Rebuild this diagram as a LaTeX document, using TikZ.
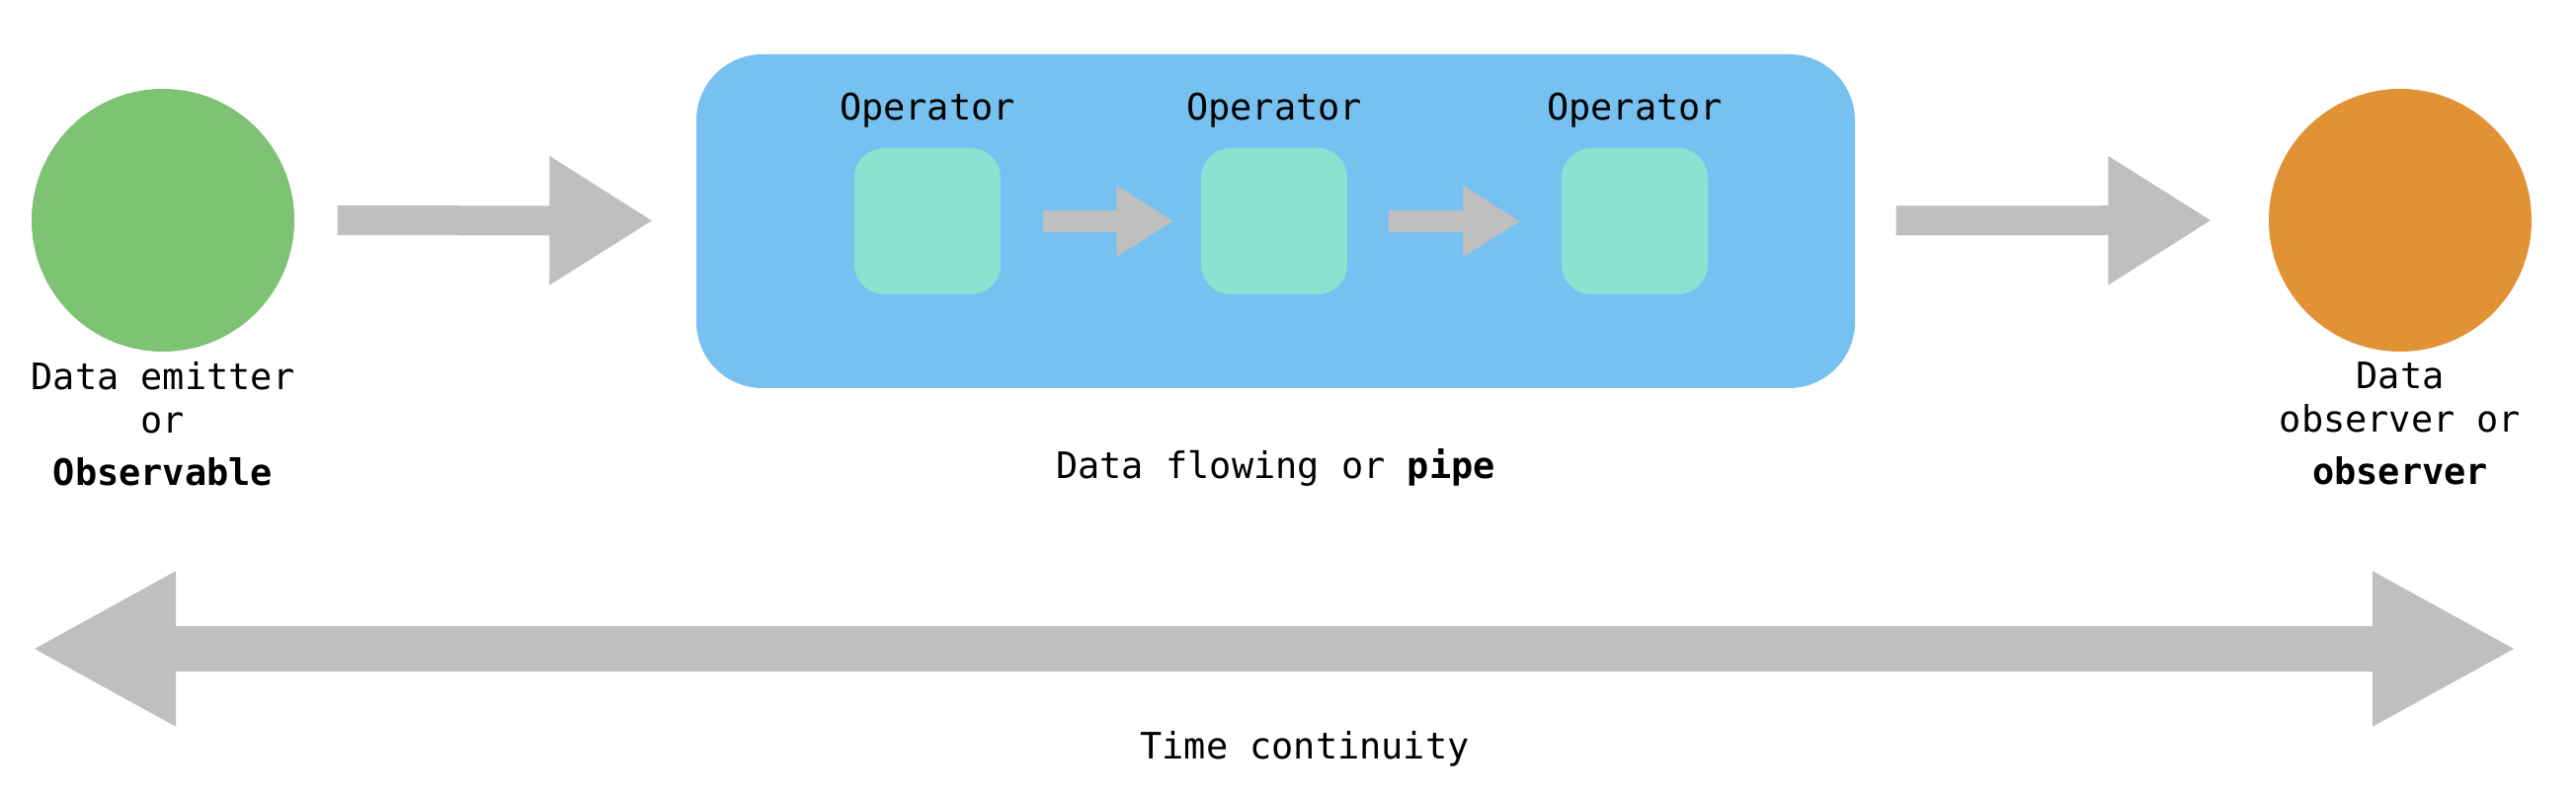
\documentclass[tikz,border=0pt]{standalone}
\usepackage{fontspec}
\setmonofont{DejaVu Sans Mono}
\usepackage{xcolor}
\usetikzlibrary{positioning,arrows.meta}

\definecolor{emittergreen}{RGB}{125,195,115}
\definecolor{observerorange}{RGB}{224,146,53}
\definecolor{pipeblue}{RGB}{118,193,240}
\definecolor{opteal}{RGB}{141,225,209}
\definecolor{flowgray}{RGB}{191,191,191}

\begin{document}
\begin{tikzpicture}[node distance=0.2cm, font=\ttfamily\fontsize{10.5}{12.7}\selectfont,
  actor/.style={circle, minimum size=2.66cm, inner sep=0pt},
  opbox/.style={fill=opteal, rounded corners=0.3cm, minimum size=1.48cm, inner sep=0pt},
  bigflow/.style={draw=flowgray, line width=0.30cm, -{Triangle[length=1.05cm, width=1.23cm]}},
  smallflow/.style={draw=flowgray, line width=0.22cm, -{Triangle[length=0.58cm, width=0.68cm]}},
  timeflow/.style={draw=flowgray, line width=0.46cm,
    {Triangle[length=1.46cm, width=1.46cm]}-{Triangle[length=1.46cm, width=1.46cm]}}]

  \useasboundingbox (0,0) rectangle (26.08,8.06);

  \node[actor, fill=emittergreen] (emitter) at (1.65,5.83) {};
  \node[actor, fill=observerorange] (observer) at (24.30,5.83) {};

  \node[fill=pipeblue, rounded corners=0.67cm, minimum width=11.73cm, minimum height=3.38cm] (pipe) at (12.915,5.82) {};

  \node[opbox] (op1) at (9.39,5.82) {};
  \node[opbox] (op2) at (12.90,5.82) {};
  \node[opbox] (op3) at (16.55,5.82) {};

  \node[above=0.08cm of op1] (lop1) {Operator};
  \node[above=0.08cm of op2] (lop2) {Operator};
  \node[above=0.08cm of op3] (lop3) {Operator};

  \node[below=-0.03cm of emitter, align=center] (lemitter) {Data emitter\\or\\[2.4pt]\textbf{Observable}};
  \node[below=-0.03cm of observer, align=center] (lobserver) {Data\\observer or\\[2.4pt]\textbf{observer}};
  \node[below=0.48cm of pipe] (lpipe) {Data flowing or \textbf{pipe}};

  \path[bigflow, shorten <=0.43cm, shorten >=0.43cm] (emitter) -- (pipe);
  \path[bigflow, shorten <=0.41cm, shorten >=0.57cm] (pipe) -- (observer);

  \path[smallflow, shorten <=0.42cm, shorten >=0.27cm] (op1) -- (op2);
  \path[smallflow, shorten <=0.41cm, shorten >=0.41cm] (op2) -- (op3);

  \coordinate (tstart) at (0.32,1.49);
  \coordinate (tend) at (25.48,1.49);
  \path[timeflow] (tstart) -- (tend);
  \node (ltime) at (13.21,0.48) {Time continuity};

\end{tikzpicture}
\end{document}
